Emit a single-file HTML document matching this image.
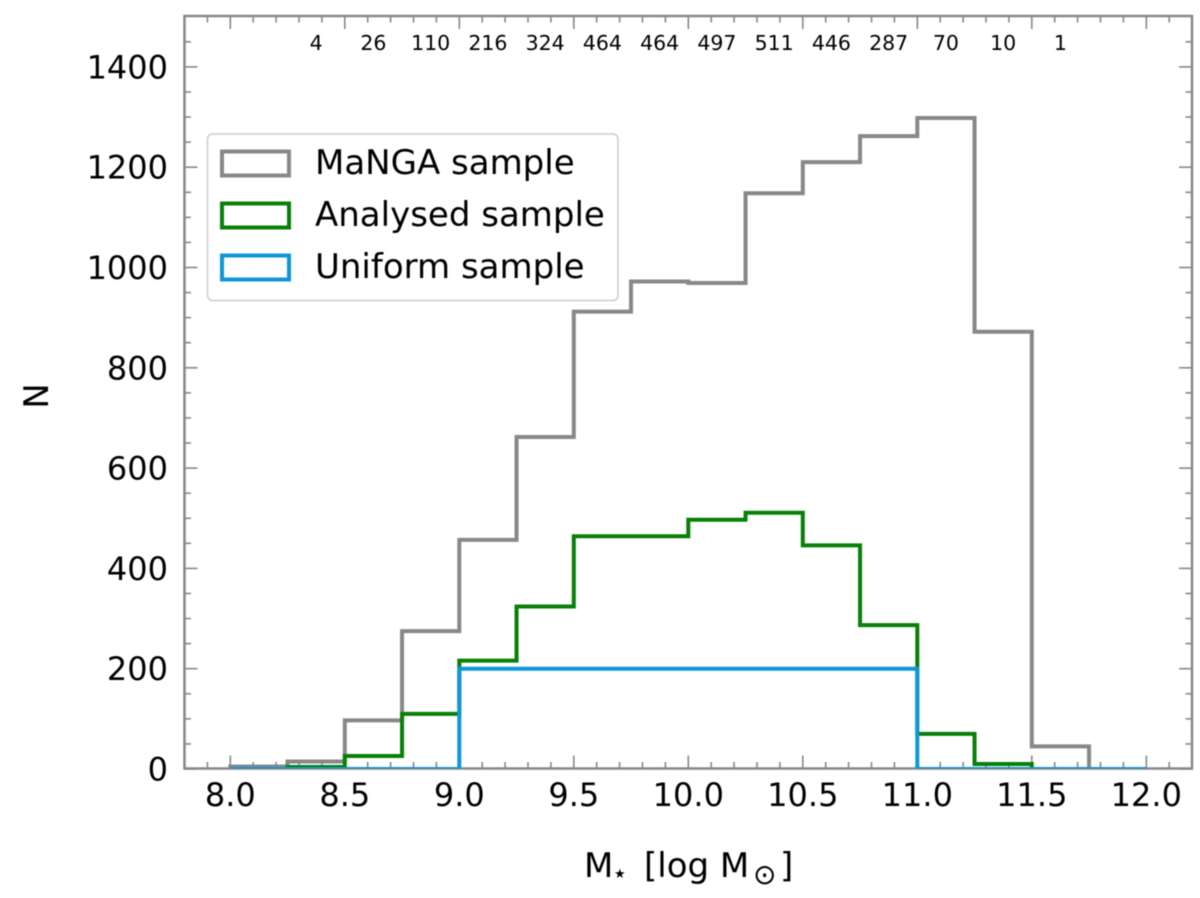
<!DOCTYPE html>
<html lang="en">
<head>
<meta charset="utf-8">
<title>Stellar mass histogram</title>
<style>
html,body{margin:0;padding:0;background:#fff;width:1200px;height:898px;overflow:hidden}
svg{display:block;filter:blur(0.45px)}
text{font-family:"DejaVu Sans","Liberation Sans",sans-serif;fill:#000}
</style>
</head>
<body>
<svg id="chart" width="1200" height="898" viewBox="0 0 1200 898" xmlns="http://www.w3.org/2000/svg">
  <defs><clipPath id="plot-clip"><rect x="184.5" y="16" width="1007.5" height="752.5"/></clipPath></defs>
  <g id="ticks"></g>
  <rect x="184.5" y="16" width="1007.5" height="752.5" fill="none" stroke="#888" stroke-width="2.5"/>
  <g id="series" clip-path="url(#plot-clip)"></g>
  <g id="labels"></g>
  <g id="counts"></g>

  <g>
    <rect x="207.5" y="134" width="410.5" height="166.5" rx="5" fill="#fff" stroke="#ccc" stroke-width="1.5"/>
    <g>
      <rect x="222" y="151.5" width="67" height="24" fill="none" stroke="#888888" stroke-width="4"/>
      <text x="315" y="174" font-size="34">MaNGA sample</text>
    </g>
    <g>
      <rect x="222" y="203.5" width="67" height="24" fill="none" stroke="#078007" stroke-width="4"/>
      <text x="315" y="226" font-size="34">Analysed sample</text>
    </g>
    <g>
      <rect x="222" y="255.5" width="67" height="24" fill="none" stroke="#0e96d8" stroke-width="4"/>
      <text x="315" y="278" font-size="34">Uniform sample</text>
    </g>
  </g>

  <g>
    <text x="584" y="877" font-size="34">M</text>
    <text x="614" y="878" font-size="13">★</text>
    <text x="644" y="877" font-size="34">[log M</text>
    <text x="753" y="884" font-size="28">⊙</text>
    <text x="780" y="877" font-size="34">]</text>
  </g>
  <text transform="translate(48,396) rotate(-90)" text-anchor="middle" font-size="34">N</text>
</svg>
<script>
const binEdges = [8.0, 8.25, 8.5, 8.75, 9.0, 9.25, 9.5, 9.75, 10.0, 10.25, 10.5, 10.75, 11.0, 11.25, 11.5, 11.75, 12.0];
const mangaCounts = [5, 15, 97, 275, 457, 662, 912, 972, 969, 1148, 1210, 1262, 1298, 872, 45, 0];
const analysedCounts = [0, 4, 26, 110, 216, 324, 464, 464, 497, 511, 446, 287, 70, 10, 0, 0];
const uniformCounts = [0, 0, 0, 0, 200, 200, 200, 200, 200, 200, 200, 200, 0, 0, 0, 0];
const binCountLabels = ['', '4', '26', '110', '216', '324', '464', '464', '497', '511', '446', '287', '70', '10', '1', ''];
const xMajorTicks = [8.0, 8.5, 9.0, 9.5, 10.0, 10.5, 11.0, 11.5, 12.0];
const yMajorTicks = [0, 200, 400, 600, 800, 1000, 1200, 1400];

const NS = 'http://www.w3.org/2000/svg';
const xAxis = v => 230.3 + (v - 8) * 229;
const yAxis = v => 769 - v * 0.5015;
const plotTop = 16, plotBottom = 768.5, plotLeft = 184.5, plotRight = 1192;
const seriesGroup = document.getElementById('series');
const ticksGroup = document.getElementById('ticks');
const labelsGroup = document.getElementById('labels');
const countsGroup = document.getElementById('counts');

function stepPath(counts) {
  let d = 'M' + xAxis(binEdges[0]) + ' ' + yAxis(0);
  counts.forEach((c, i) => {
    d += 'L' + xAxis(binEdges[i]) + ' ' + yAxis(c);
    d += 'L' + xAxis(binEdges[i + 1]) + ' ' + yAxis(c);
  });
  d += 'L' + xAxis(binEdges[counts.length]) + ' ' + yAxis(0);
  return d;
}
function addSeries(counts, color, width, name) {
  const p = document.createElementNS(NS, 'path');
  p.setAttribute('d', stepPath(counts));
  p.setAttribute('fill', 'none');
  p.setAttribute('stroke', color);
  p.setAttribute('stroke-width', width);
  p.setAttribute('stroke-linejoin', 'miter');
  
  
  seriesGroup.appendChild(p);
}
addSeries(mangaCounts, '#888888', 4, 'manga-sample-line');
addSeries(analysedCounts, '#078007', 4, 'analysed-sample-line');
addSeries(uniformCounts, '#0e96d8', 4, 'uniform-sample-line');

function tickLine(x1, y1, x2, y2, w) {
  const l = document.createElementNS(NS, 'line');
  l.setAttribute('x1', x1);
  l.setAttribute('y1', y1);
  l.setAttribute('x2', x2);
  l.setAttribute('y2', y2);
  l.setAttribute('stroke', '#888');
  l.setAttribute('stroke-width', w);
  
  
  ticksGroup.appendChild(l);
}
for (let i = 79; i <= 121; i++) {
  const v = i / 10, x = xAxis(v), len = (i % 5 === 0) ? 13 : 6.5;
  tickLine(x, plotBottom, x, plotBottom - len, 1.6);
  tickLine(x, plotTop, x, plotTop + len, 1.6);
}
for (let v = 0; v <= 1450; v += 50) {
  const y = yAxis(v), len = (v % 200 === 0) ? 13 : 6.5;
  tickLine(plotLeft, y, plotLeft + len, y, 1.6);
  tickLine(plotRight, y, plotRight - len, y, 1.6);
}

function addText(parent, x, y, str, size, anchor, name) {
  const t = document.createElementNS(NS, 'text');
  t.setAttribute('x', x);
  t.setAttribute('y', y);
  t.setAttribute('font-size', size);
  t.setAttribute('text-anchor', anchor);
  
  
  t.textContent = str;
  parent.appendChild(t);
}
xMajorTicks.forEach(v => addText(labelsGroup, xAxis(v), 806, v.toFixed(1), 32, 'middle', 'x-tick-label'));
yMajorTicks.forEach(v => addText(labelsGroup, 168, yAxis(v) + 11.5, String(v), 32, 'end', 'y-tick-label'));
binCountLabels.forEach((c, i) => {
  if (c) {
    addText(countsGroup, xAxis((binEdges[i] + binEdges[i + 1]) / 2), 50, c, 20.5, 'middle', 'bin-count-label');
  }
});
</script>
</body>
</html>
